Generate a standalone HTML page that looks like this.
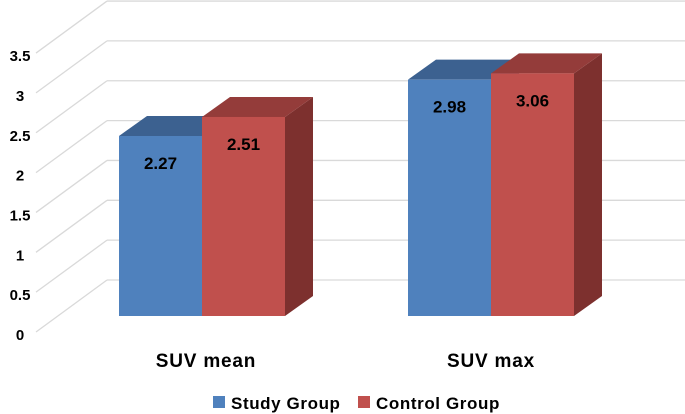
<!DOCTYPE html>
<html><head><meta charset="utf-8"><style>
body{margin:0;background:#fff;}
svg{display:block;font-family:"Liberation Sans",sans-serif;font-weight:bold;}
</style></head><body>
<svg id="chart" width="685" height="414" viewBox="0 0 685 414"></svg>
<script>
const categories=["SUV mean","SUV max"];
const studyValues=[2.27,2.98];
const controlValues=[2.51,3.06];
const tickValues=[0,0.5,1,1.5,2,2.5,3,3.5];
const seriesNames=["Study Group","Control Group"];

const svg=document.getElementById('chart');
const NS='http://www.w3.org/2000/svg';
function mk(tag,attrs,parent){const e=document.createElementNS(NS,tag);for(const k in attrs)e.setAttribute(k,attrs[k]);(parent||svg).appendChild(e);return e;}
const gridFront=v=>332-79.7*v;
const barY=v=>316-79.3*v;
const groupX=i=>119+i*289;
const barW=83, dx=28, dy=-20;

const grid=mk('g',{});


tickValues.forEach(v=>{
  const fy=gridFront(v), by=fy-52;
  const d=mk('line',{x1:36,y1:fy,x2:107,y2:by,stroke:'#d9d9d9','stroke-width':1.3},grid);
  
  
  const h=mk('line',{x1:107,y1:by,x2:685,y2:by,stroke:'#d9d9d9','stroke-width':1.3},grid);
  
  
  const t=mk('text',{x:20,y:fy+8,'text-anchor':'middle','font-size':15,fill:'#000'});
  t.textContent=String(v);
  
  
});
const colors=[{f:'#4F81BD',t:'#3C6190',s:'#385D8A'},{f:'#C0504D',t:'#943C3A',s:'#7D302E'}];
function bar(x,v,c,name){
  const g=mk('g',{});
  
  
  const y=barY(v), b=316;
  mk('polygon',{points:`${x+barW},${y} ${x+barW+dx},${y+dy} ${x+barW+dx},${b+dy} ${x+barW},${b}`,fill:c.s},g);
  mk('polygon',{points:`${x},${y} ${x+dx},${y+dy} ${x+barW+dx},${y+dy} ${x+barW},${y}`,fill:c.t},g);
  mk('rect',{x:x,y:y,width:barW,height:b-y,fill:c.f},g);
  const t=mk('text',{x:x+barW/2,y:y+33,'text-anchor':'middle','font-size':17,fill:'#000'},g);
  t.textContent=v.toFixed(2);
  
  
}
categories.forEach((c,i)=>{
  const x=groupX(i);
  bar(x,studyValues[i],colors[0],'bar-study-'+i);
  bar(x+barW,controlValues[i],colors[1],'bar-control-'+i);
  const t=mk('text',{x:x+barW+(i?0:4),y:367,'text-anchor':'middle','font-size':19,'letter-spacing':0.8,fill:'#000'});
  t.textContent=c;
  
  
});
const legX=[213,358];
seriesNames.forEach((n,i)=>{
  const g=mk('g',{});
  
  
  mk('rect',{x:legX[i],y:396,width:12,height:12,fill:colors[i].f},g);
  const t=mk('text',{x:legX[i]+18,y:409,'font-size':17,'letter-spacing':0.6,fill:'#000'},g);
  t.textContent=n;
});
</script>
</body></html>
